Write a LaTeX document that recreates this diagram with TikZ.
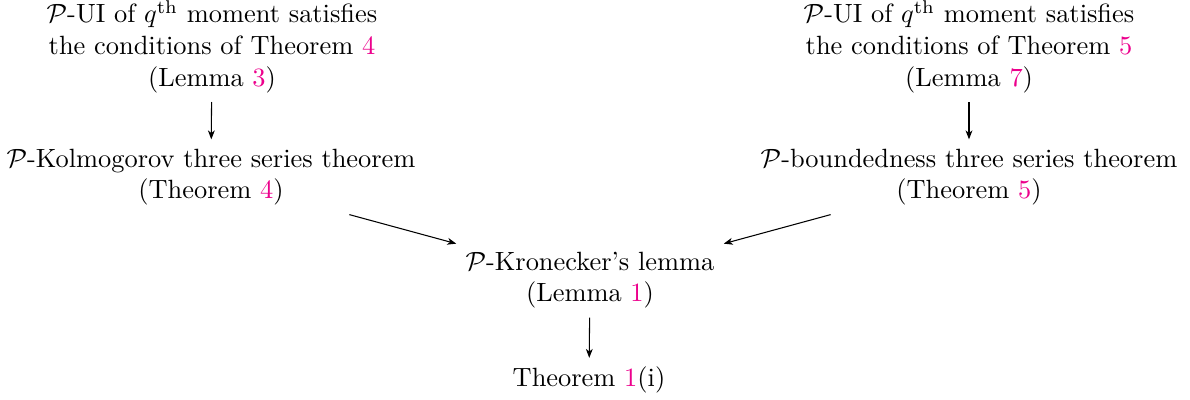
\documentclass[tikz,border=0pt]{standalone}
\usepackage{amsmath}
\usetikzlibrary{arrows.meta}
\definecolor{refpink}{RGB}{236,0,140}
\newcommand{\rf}[1]{\textcolor{refpink}{#1}}
\tikzset{
  stmt/.style={align=center, font=\normalsize},
  impl/.style={-{Stealth[length=3.4pt, width=2.6pt, inset=1pt]}},
}
\begin{document}
\begin{tikzpicture}[x=0.3788pt, y=-0.3788pt]
  \useasboundingbox (0,0) rectangle (1190,400);
  \node[stmt] (uiL) at (212,46.5)
    {$\mathcal{P}$-UI of $q^{\mathrm{th}}$ moment satisfies\\
     the conditions of Theorem \rf{4}\\
     (Lemma \rf{3})};
  \node[stmt] (uiR) at (969,46.5)
    {$\mathcal{P}$-UI of $q^{\mathrm{th}}$ moment satisfies\\
     the conditions of Theorem \rf{5}\\
     (Lemma \rf{7})};
  \node[stmt] (kol) at (211,177)
    {$\mathcal{P}$-Kolmogorov three series theorem\\
     (Theorem \rf{4})};
  \node[stmt] (bdd) at (969,177)
    {$\mathcal{P}$-boundedness three series theorem\\
     (Theorem \rf{5})};
  \node[stmt] (kro) at (590,280)
    {$\mathcal{P}$-Kronecker's lemma\\
     (Lemma \rf{1})};
  \node[stmt, anchor=base] (thm) at (589,387)
    {Theorem \rf{1}(i)};

  \draw[impl] (uiL) -- (kol);
  \draw[impl] (uiR) -- (bdd);
  \draw[impl] (kol) -- (kro);
  \draw[impl] (bdd) -- (kro);
  \draw[impl] (kro) -- (thm);
\end{tikzpicture}
\end{document}
